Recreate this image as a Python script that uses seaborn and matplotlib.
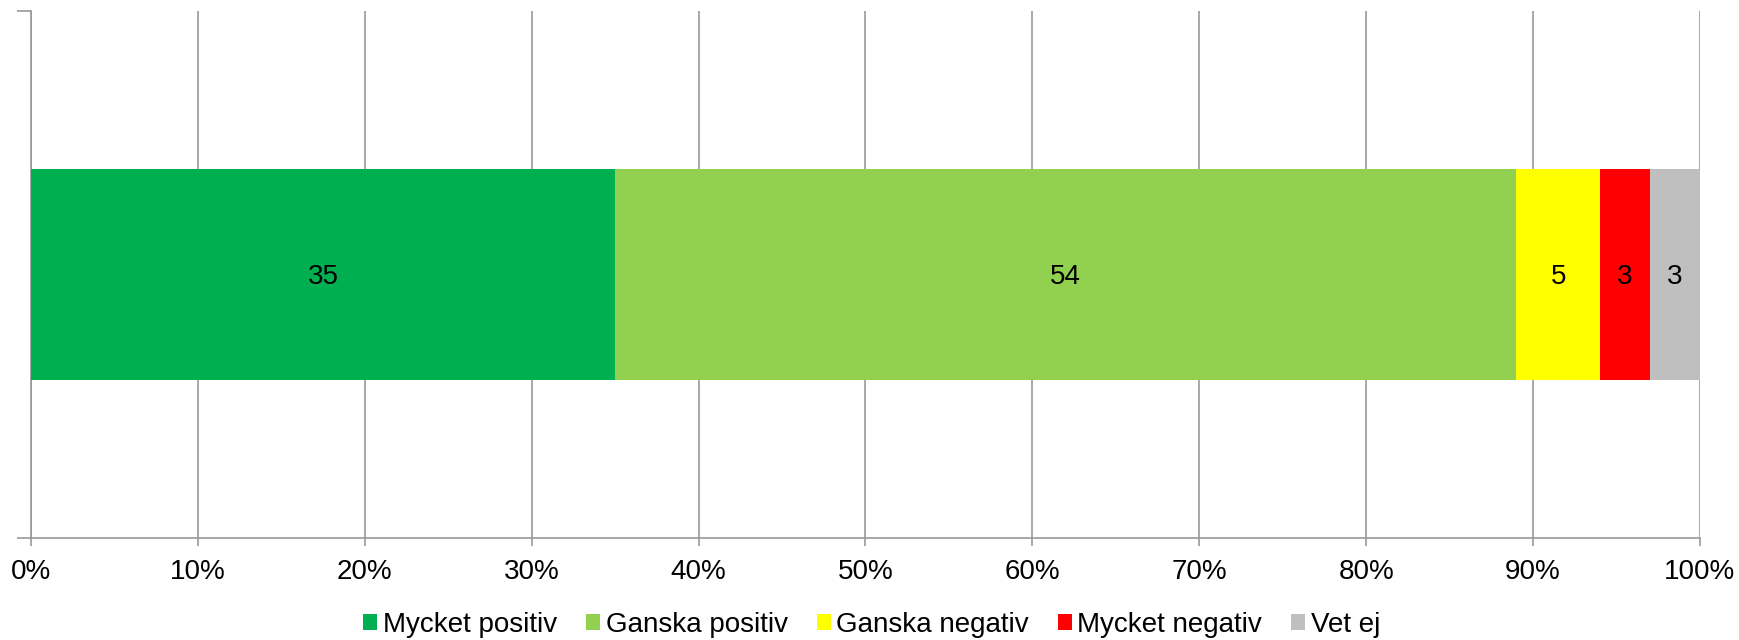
import numpy as np
import pandas as pd
import matplotlib
matplotlib.use("Agg")
import matplotlib.pyplot as plt
from matplotlib.patches import Patch
import seaborn as sns

# svarsalternativ och andelar (procent)
categories = ["Mycket positiv", "Ganska positiv", "Ganska negativ", "Mycket negativ", "Vet ej"]
values = [35, 54, 5, 3, 3]
colors = ["#00B050", "#92D050", "#FFFF00", "#FF0000", "#BFBFBF"]
xticks = [0, 10, 20, 30, 40, 50, 60, 70, 80, 90, 100]

sns.set_style("white")
plt.rcParams["font.family"] = ["Liberation Sans", "DejaVu Sans"]
plt.rcParams["text.color"] = "black"
plt.rcParams["xtick.labelcolor"] = "black"

cum = np.cumsum(values)
df = pd.DataFrame({"kategori": categories, "varde": values, "kum": cum, "rad": [""] * len(values)})

fig = plt.figure(figsize=(17.4, 6.4), dpi=100)
ax = fig.add_axes([31 / 1740, 1 - 538 / 640, (1700 - 31) / 1740, 527 / 640])

# staplade segment: rita kumulativa staplar bakifrån
for i in range(len(df) - 1, -1, -1):
    row = df.iloc[[i]]
    sns.barplot(data=row, x="kum", y="rad", color=colors[i], saturation=1,
                width=0.4, orient="h", ax=ax, zorder=3, linewidth=0)

for v, c in zip(values, cum):
    ax.text(c - v / 2, 0, str(v), ha="center", va="center_baseline", fontsize=20,
            color="black", zorder=4)

ax.set_xlim(0, 100)
ax.set_ylim(0.5, -0.5)
ax.set_xticks(xticks)
ax.set_xticklabels([f"{t}%" for t in xticks])
ax.set_yticks([-0.5, 0.5])
ax.set_yticklabels([])
ax.set_xlabel("")
ax.set_ylabel("")

grey = "#999999"
ax.grid(axis="x", color=grey, linewidth=1.2, zorder=0)
ax.grid(axis="y", visible=False)
for s in ["top", "right"]:
    ax.spines[s].set_visible(False)
for s in ["left", "bottom"]:
    ax.spines[s].set_color(grey)
    ax.spines[s].set_linewidth(1.2)
ax.tick_params(axis="x", length=6, width=1.2, color=grey, labelsize=20, pad=9,
               direction="out", labelcolor="black")
ax.tick_params(axis="y", length=10, width=1.2, color=grey, direction="out")
ax.xaxis.set_ticks_position("bottom")
ax.yaxis.set_ticks_position("left")

handles = [Patch(facecolor=c, edgecolor="none") for c in colors]
fig.legend(handles, categories, loc="center", bbox_to_anchor=(0.501, 15 / 640), ncol=5,
           frameon=False, fontsize=20, handlelength=0.5, handleheight=0.5,
           handletextpad=0.2, columnspacing=1.05, borderpad=0, labelcolor="black")

fig.savefig("out.png", dpi=100)
